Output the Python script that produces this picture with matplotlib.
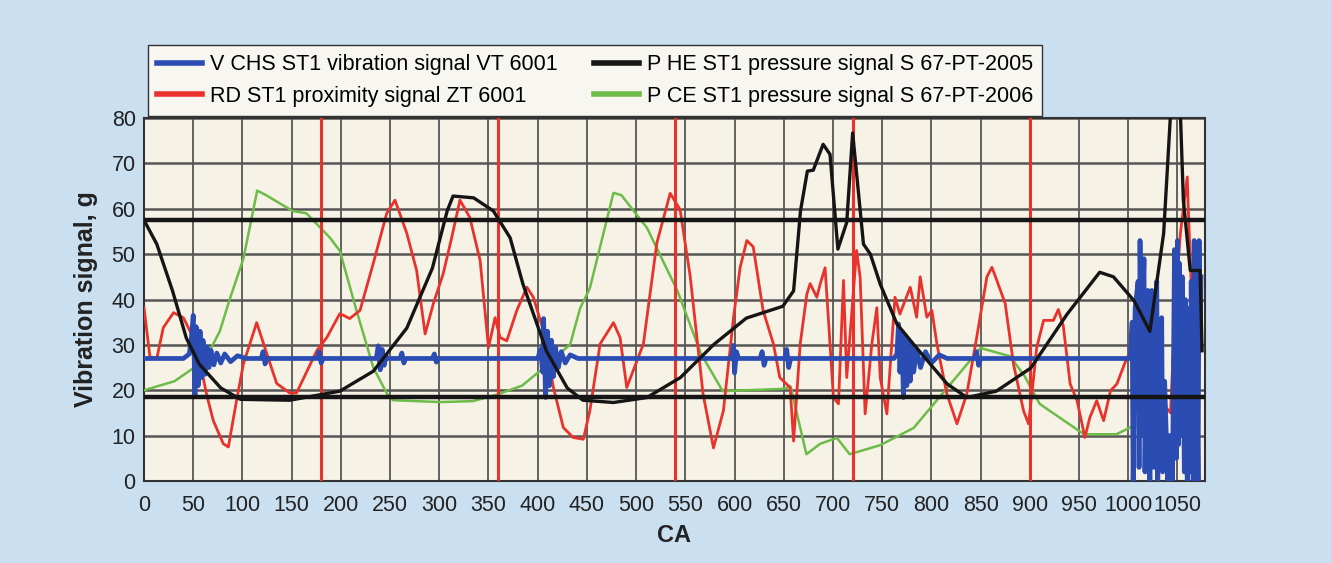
import matplotlib
matplotlib.use("Agg")
import matplotlib.pyplot as plt
from matplotlib.lines import Line2D

plt.rcParams['font.family'] = ['Liberation Sans', 'DejaVu Sans']

# P CE ST1 pressure signal (green)
green_x = [0, 31, 51, 64, 77, 87, 101, 115, 124, 151, 165, 189, 199, 216, 233, 247, 253, 301, 334, 358,
           384, 402, 433, 443, 453, 477, 485, 511, 542, 566, 588, 649, 657, 673, 687, 704, 717, 748, 782,
           816, 850, 880, 895, 910, 955, 988, 1015, 1032]
green_y = [20, 22, 25, 27.5, 33, 40, 49, 64, 63, 59.5, 59, 53.6, 50.7, 37.5, 25, 19.2, 17.8, 17.4, 17.6, 19,
           21, 24.2, 30.1, 38, 42.5, 63.5, 63, 55.8, 41.9, 28, 19.8, 20.3, 20.8, 5.9, 8.2, 9.5, 5.9, 7.9, 11.7,
           20.5, 29.3, 27.5, 23, 17, 10.3, 10.3, 13.2, 15]

# P HE ST1 pressure signal (black)
black_x = [0, 13, 29, 43, 56, 78, 98, 148, 199, 233, 267, 293, 308, 314, 335, 355, 372, 385, 409, 430,
           446, 477, 511, 545, 579, 612, 649, 660, 667, 674, 680, 690, 697, 705, 714, 720, 731, 738, 748,
           765, 782, 816, 836, 866, 901, 938, 971, 985, 1006, 1022, 1036, 1043, 1048, 1053, 1056, 1063,
           1073, 1075]
black_y = [57.5, 52.2, 41.9, 31.5, 25.8, 20.5, 18, 17.8, 19.8, 24.2, 33.7, 46.9, 59.5, 62.8, 62.4, 59.5,
           53.6, 43.4, 28.6, 20.5, 17.8, 17.3, 18.4, 22.8, 30.1, 35.9, 38.5, 41.9, 59.5, 68.3, 68.5, 74.2,
           72, 51.1, 57, 76.7, 52.2, 50, 43.4, 34.6, 30.1, 21.4, 18.4, 19.8, 24.9, 36.8, 46, 45, 39.7, 33,
           54.6, 81, 92, 81, 62, 46.4, 46.4, 28.7]

# RD ST1 proximity signal (red)
red_x = [0, 6, 13, 19.6, 30, 40, 50, 58.6, 63.7, 70.4, 80.6, 85.7, 94, 101, 114.5, 124.7, 134.8, 148, 155,
         175.5, 185.7, 199, 209, 219.5, 233, 246.6, 255, 267, 277, 285.6, 294, 304, 312.7, 321, 331, 341.5,
         350, 356.7, 361.8, 368.6, 378.8, 389, 395.6, 405.8, 416, 426, 436, 446.4, 453, 463.4, 477, 483.7,
         490.5, 497, 507.4, 521, 534.6, 544.7, 555, 568, 578.6, 588.7, 599, 605.7, 612.5, 619, 629, 639.5,
         646, 656.5, 660, 666.7, 673.5, 676.8, 683.6, 687, 692, 700.5, 705.6, 710.7, 714, 719, 724, 727.6,
         732.7, 739.5, 744.6, 748, 754.8, 763, 768, 778.5, 785, 788.6, 795.4, 800.5, 805.6, 815.7, 826,
         836, 846, 856.4, 861.5, 866.5, 875, 883.4, 893.6, 898.7, 902, 907, 914, 924, 929, 934, 941, 948,
         956, 961, 968, 975, 982, 988.5, 998.7, 1005, 1015.6, 1026, 1032.5, 1043, 1048, 1053, 1060, 1061,
         1065, 1066, 1071, 1073]
red_y = [38.2, 27.4, 27, 33.8, 37.1, 36, 31.6, 24.3, 19, 13.3, 8.2, 7.5, 17.7, 25.8, 34.9, 28.1, 21.5,
         19.4, 19.4, 28.7, 31.6, 36.9, 35.8, 37.6, 48, 59, 61.9, 54.6, 46.4, 32.4, 39.1, 45.7, 53.7, 61.9,
         58.1, 48.6, 29.4, 36, 31.6, 30.9, 37.6, 42.7, 40.5, 33.1, 20.6, 11.8, 9.6, 9.2, 15.5, 30.2, 34.9,
         31.6, 20.6, 24.3, 30.2, 52.4, 63.4, 59.8, 45, 19.2, 7.3, 15.5, 36.1, 47.1, 53, 51.6, 37.6, 30.2,
         22.8, 20.6, 8.8, 30.2, 41.2, 43.5, 40.5, 43.4, 47, 18.4, 17, 44.2, 22.8, 36.8, 50.8, 44.9, 14.8,
         30.2, 38.2, 22.8, 14.8, 40.5, 36.8, 42.7, 36.1, 45, 36.1, 37.6, 30.2, 19.2, 12.6, 19.2, 31.6, 45,
         47.1, 44.2, 39.1, 25.8, 15.5, 12.6, 19, 29.4, 35.4, 35.4, 37.8, 34.2, 21.4, 17.7, 9.6, 14, 17.7,
         13.3, 19.9, 21.4, 27.2, 29, 18, 4.4, 17.8, 15, 40, 54.6, 67, 60, 38, 23, 37.6, 43]

# V CHS ST1 vibration signal (blue), one line per stretch of the trace
blue_x = ([0, 20, 40, 46, 48, 50, 51.8, 53, 55, 57, 58.6, 60, 62, 64, 66, 68, 71, 74, 78, 82, 88, 95, 104]
          + [119, 121, 123, 125] + [176, 178, 180, 182] + [236, 238, 240, 242, 244, 246, 248]
          + [260, 262, 264, 266] + [293, 295, 297, 299]
          + [400, 403, 405, 406, 408, 410, 412, 414, 416, 418, 421, 424, 428, 433, 441]
          + [597, 599, 600, 602, 604] + [626, 628, 630, 632] + [651, 653, 655, 657]
          + [762, 765, 766.6, 768, 770, 771.6, 773, 775, 777, 778.5, 780, 782, 785, 789, 794, 800, 808, 816]
          + [844, 846, 848, 850]
          + [1000, 1002, 1004, 1005, 1007, 1010, 1011, 1012, 1014, 1015, 1016, 1017, 1019, 1020, 1022,
             1023, 1024, 1026, 1027, 1029, 1030, 1032, 1034, 1035, 1037, 1040, 1042, 1045, 1047, 1049,
             1050, 1051, 1052, 1054, 1055, 1057, 1058, 1060, 1061, 1063, 1064, 1066, 1067, 1068, 1069,
             1071, 1072, 1073, 1074])
blue_y = ([27, 27, 27, 28, 31, 36.5, 19, 34, 21, 33, 22.8, 31, 23.5, 29.5, 25, 28.8, 25.6, 28.2, 26, 28, 26.3, 27.6, 27]
          + [27, 28.5, 25.8, 27] + [27, 28.5, 26, 27] + [27, 29.8, 24.5, 29, 25.5, 27.5, 27]
          + [27, 28.2, 26, 27] + [27, 28, 26.2, 27]
          + [27, 29, 24, 35.8, 18.4, 33, 21, 31, 23, 29.5, 25, 28.5, 26, 27.8, 27]
          + [27, 29.9, 23.8, 28.5, 27] + [27, 28.5, 25.5, 27] + [27, 29, 25, 27]
          + [27, 28, 34.6, 24, 32.5, 18.4, 32, 21, 31, 22, 30, 24, 29, 25, 28.5, 26, 27.8, 27]
          + [27, 28.5, 25.5, 27]
          + [27, 27, 35, 0, 38, 44, 3, 53, 10, 40, 49, 2, 36, 42, 0,
             30, 42, 3, 35, 44, 0, 28, 36, 2, 22, 0, 10, 0, 51, 5,
             53, 8, 48, 10, 45, 2, 40, 0, 38, 2, 44, 0, 53, 5, 40,
             0, 53, 30, 45])

vert_red = [180, 360, 540, 720, 900]
hlines = [57.5, 18.5]
labels = ['V CHS ST1 vibration signal VT 6001', 'RD ST1 proximity signal ZT 6001',
          'P HE ST1 pressure signal S 67-PT-2005', 'P CE ST1 pressure signal S 67-PT-2006']

c_blue, c_red, c_black, c_green = '#2b4cb3', '#e8322b', '#151515', '#6dbb48'

W, H = 1331, 563
fig = plt.figure(figsize=(W / 100, H / 100), dpi=100, facecolor='#cadff0')
ax = fig.add_axes([144 / W, 1 - 481 / H, (1205 - 144) / W, (481 - 118) / H])
ax.set_facecolor('#f6f3e6')

ax.set_xlim(0, 1078)
ax.set_ylim(0, 80)
ax.set_xticks(range(0, 1051, 50))
ax.set_yticks(range(0, 81, 10))
ax.grid(axis='x', color='#3a3a3a', lw=1.1)
ax.grid(axis='y', color='#555555', lw=1.8)
ax.set_axisbelow(True)
ax.tick_params(length=0, labelsize=15.5, labelcolor='#222222')
ax.tick_params(axis='x', pad=10)
ax.tick_params(axis='y', pad=6)
for s in ax.spines.values():
    s.set_color('#333333')
    s.set_linewidth(1.5)

ax.plot(green_x, green_y, color=c_green, lw=1.8, zorder=3)
ax.plot(red_x, red_y, color=c_red, lw=2.0, zorder=4)
for v in vert_red:
    ax.axvline(v, color=c_red, lw=2.2, zorder=4)
ax.plot(blue_x, blue_y, color=c_blue, lw=3.4, zorder=5)
ax.plot(black_x, black_y, color=c_black, lw=2.4, zorder=6)
for h in hlines:
    ax.axhline(h, color=c_black, lw=3.2, zorder=6)

ax.set_ylabel('Vibration signal, g', fontsize=18, fontweight='bold', color='#222222', labelpad=10)
ax.set_xlabel('CA', fontsize=17, fontweight='bold', color='#222222', labelpad=6)

handles = [Line2D([], [], color=c, lw=4) for c in (c_blue, c_red, c_black, c_green)]
fig.legend(handles, labels, ncol=2, loc='upper left', bbox_to_anchor=(148 / W, 1 - 45 / H),
           borderaxespad=0, fontsize=15.5, handlelength=2.1, handletextpad=0.35, columnspacing=1.7,
           labelspacing=0.5, borderpad=0.42, frameon=True, fancybox=False, edgecolor='#333333',
           facecolor='#f7f6f0', framealpha=1)

fig.savefig('out.png', dpi=100, facecolor=fig.get_facecolor())
